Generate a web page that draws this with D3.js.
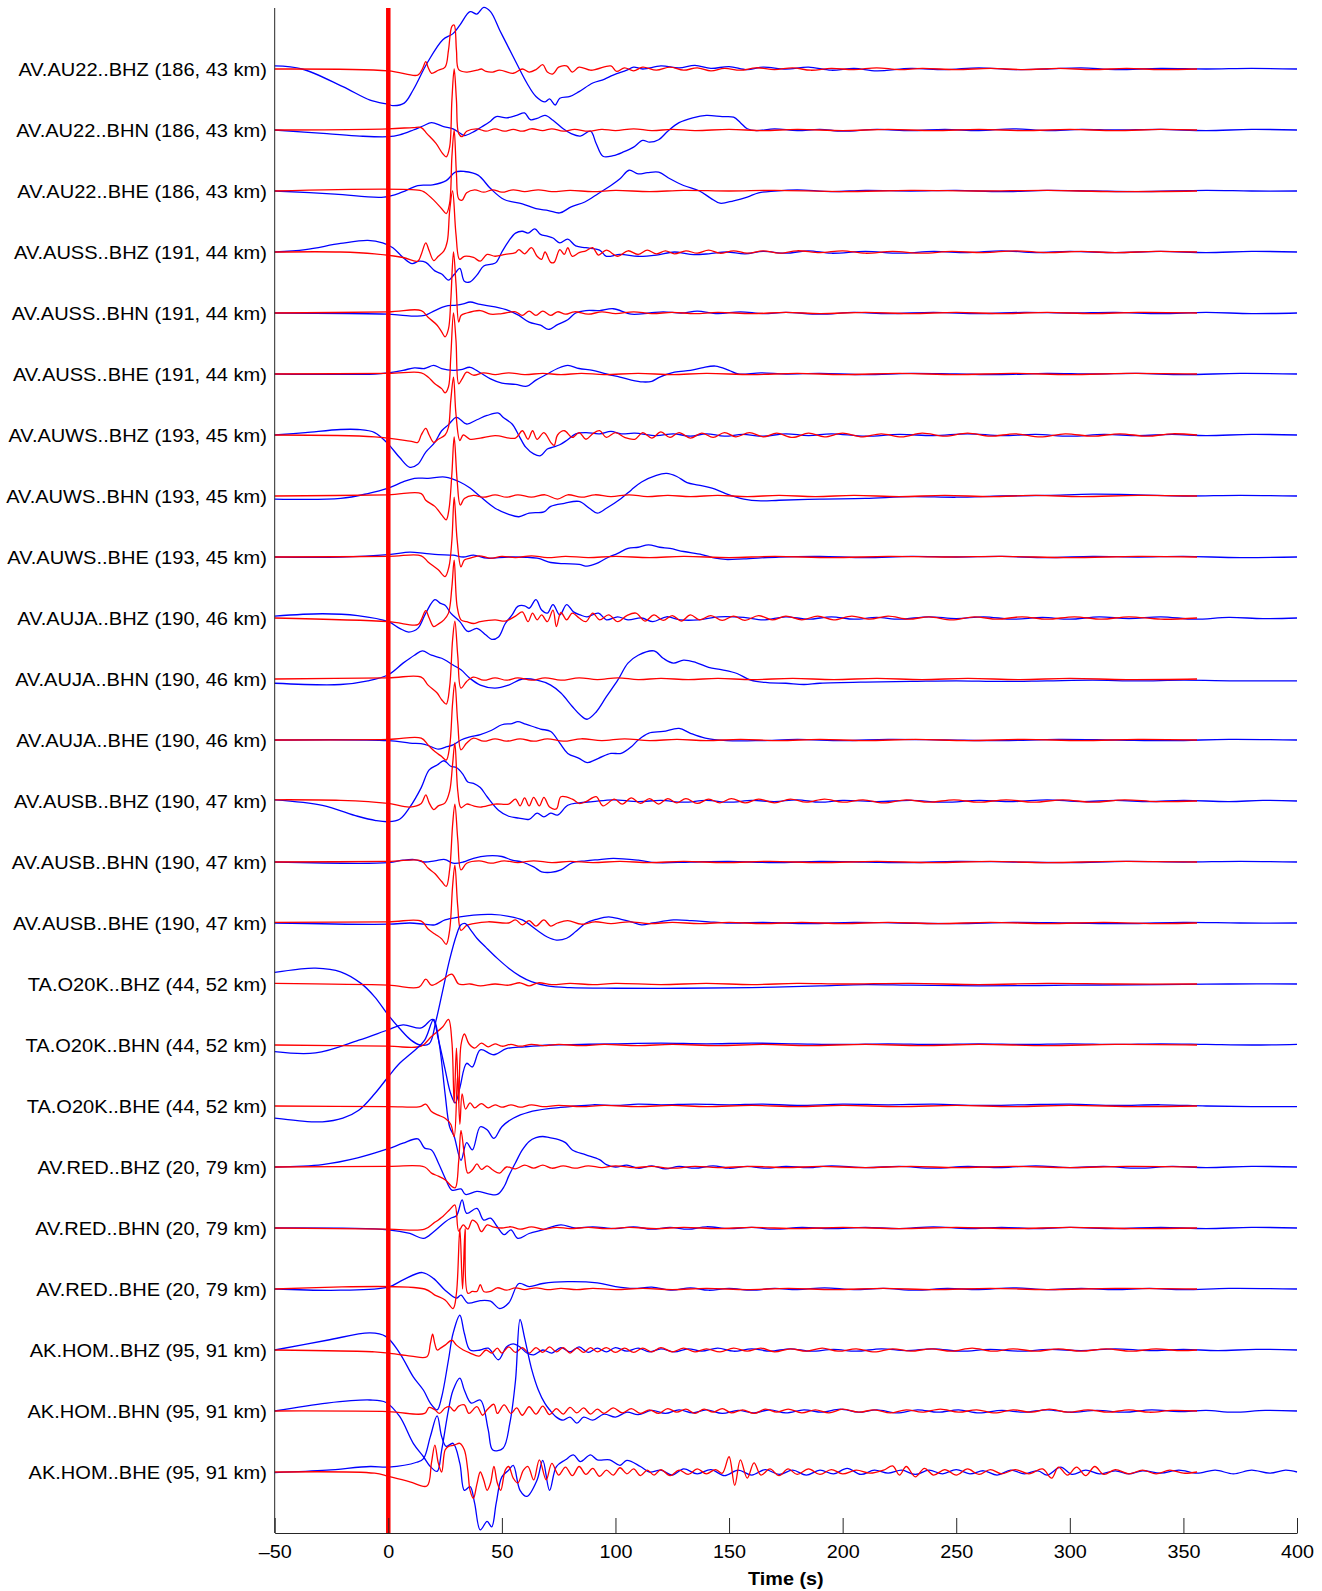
<!DOCTYPE html>
<html>
<head>
<meta charset="utf-8">
<script src="https://cdn.jsdelivr.net/npm/d3@7"></script>
<style>
  body { margin: 0; background: #fff; }
  text { font-family: "Liberation Sans", Arial, Helvetica, sans-serif; }
</style>
</head>
<body>
<div id="chart"></div>
<script>
// station labels, top to bottom
const labels = [
  "AV.AU22..BHZ (186, 43 km)", "AV.AU22..BHN (186, 43 km)", "AV.AU22..BHE (186, 43 km)",
  "AV.AUSS..BHZ (191, 44 km)", "AV.AUSS..BHN (191, 44 km)", "AV.AUSS..BHE (191, 44 km)",
  "AV.AUWS..BHZ (193, 45 km)", "AV.AUWS..BHN (193, 45 km)", "AV.AUWS..BHE (193, 45 km)",
  "AV.AUJA..BHZ (190, 46 km)", "AV.AUJA..BHN (190, 46 km)", "AV.AUJA..BHE (190, 46 km)",
  "AV.AUSB..BHZ (190, 47 km)", "AV.AUSB..BHN (190, 47 km)", "AV.AUSB..BHE (190, 47 km)",
  "TA.O20K..BHZ (44, 52 km)", "TA.O20K..BHN (44, 52 km)", "TA.O20K..BHE (44, 52 km)",
  "AV.RED..BHZ (20, 79 km)", "AV.RED..BHN (20, 79 km)", "AV.RED..BHE (20, 79 km)",
  "AK.HOM..BHZ (95, 91 km)", "AK.HOM..BHN (95, 91 km)", "AK.HOM..BHE (95, 91 km)"
];
const timeTicks = [-50, 0, 50, 100, 150, 200, 250, 300, 350, 400];
const originTime = 0;

// waveforms: flat lists of time (s), amplitude (trace spacings, up positive)
const au22Z_b = [-50,.05, -38,0, -20,-.29, -8,-.51, 0,-.58, 2,-.6, 7,-.56, 11,-.34, 17,.09, 24,.48, 28.5,.58, 31.5,.72, 36,.94, 39,.9, 42,1.01, 45,.94, 49,.64, 52,.42, 56.5,.09, 61,-.23, 65,-.45, 69,-.54, 71,-.49, 73.5,-.59, 75.5,-.48, 80,-.45, 84,-.37, 90,-.23, 95,-.17, 99,-.1, 105,-.02, 108,.03, 112,0, 120,.05, 128,.02, 135,.06, 142,.01, 150,.04, 158,-.01, 165,.03, 175,0, 185,.03, 195,-.02, 205,.01, 215,-.03, 230,.01, 245,-.01, 260,.02, 275,-.01, 290,0, 305,.02, 320,-.01, 340,.01, 360,0, 380,.01, 400,0];
const au22Z_r = [-50,0, 0,-.03, 13,-.1, 15,0, 16.5,.12, 17.5,.03, 19,-.07, 22,-.02, 25,.03, 26.5,.31, 28,.7, 29,.72, 30,.31, 31,-.01, 34.5,-.05, 39,-.02, 41,0, 43,-.04, 46,-.05, 49,-.02, 55,-.07, 59,0, 62,-.05, 65,-.01, 68,.07, 70,-.05, 72.5,-.08, 75,.03, 78.5,.05, 81,-.05, 84,.03, 89,-.02, 92,0, 98,.05, 100.5,-.04, 104,.02, 108,-.03, 112,.03, 118,-.02, 124,.03, 130,-.02, 136,.02, 142,-.03, 148,.01, 155,-.02, 162,.02, 170,-.01, 178,.02, 186,-.02, 195,.01, 205,-.01, 215,.02, 225,-.01, 235,.01, 250,-.01, 265,.01, 280,-.01, 295,.01, 310,-.01, 325,.01, 340,-.01, 356,0];
const au22N_b = [-50,0, -27,-.06, -12.5,-.1, 0,-.11, 5,-.08, 11,0, 15.5,.07, 19,.12, 24,.06, 28.5,.02, 31.5,-.05, 33.5,-.09, 37.5,-.03, 41,.05, 44.5,.13, 47.5,.22, 52,.2, 56.5,.24, 60,.28, 62.5,.17, 65.5,.19, 69,.24, 72.5,.16, 77,.02, 80.5,-.06, 84.5,-.1, 89,-.02, 91.5,-.22, 94.5,-.43, 99,-.42, 103.5,-.36, 108,-.28, 112,-.17, 115,-.2, 119,-.16, 123,-.02, 128,.12, 134,.2, 140,.24, 147,.22, 152,.21, 155,.12, 158,.02, 162,-.01, 170,.02, 180,-.01, 190,.01, 200,-.02, 215,.01, 230,-.01, 245,.01, 260,-.01, 275,.02, 290,-.01, 305,.01, 320,0, 340,.01, 360,-.01, 380,.01, 400,0];
const au22N_r = [-50,0, 0,.02, 11,.04, 14.5,.04, 17,-.06, 21,-.22, 24,-.39, 25.5,-.44, 27,-.28, 28,.49, 29,1.0, 30,.49, 31,-.06, 32.5,-.11, 34.5,-.02, 39,.02, 43,-.02, 47,.02, 51,-.02, 55,.01, 59,-.02, 63,.02, 68,-.01, 72,.02, 77,-.02, 82,.01, 88,-.02, 94,.01, 100,-.01, 108,.02, 116,-.01, 125,.01, 135,-.01, 150,.01, 165,-.01, 180,.01, 200,-.01, 220,.01, 240,-.01, 260,.01, 280,-.01, 300,.01, 320,-.01, 340,.01, 356,0];
const au22E_b = [-50,0, -23.5,-.05, -2,-.1, 6,-.02, 13,.09, 19.5,.1, 25.5,.17, 29.5,.31, 33.5,.32, 39.5,.26, 45,.04, 51,-.14, 59,-.21, 65,-.29, 70.5,-.32, 75.5,-.36, 80.5,-.26, 86.5,-.18, 92.5,-.04, 98,.09, 102,.2, 106,.34, 110,.28, 114,.3, 119,.31, 124,.2, 130,.09, 137,0, 142,-.12, 146,-.2, 152,-.16, 158,-.1, 163,-.03, 170,0, 180,.02, 195,-.01, 210,.01, 230,0, 250,.01, 270,-.01, 290,.01, 310,0, 330,-.01, 360,.01, 380,0, 400,0];
const au22E_r = [-50,0, 14,.01, 16,-.02, 20,-.15, 23.5,-.29, 25.5,-.37, 27,-.2, 28,.56, 29,1.0, 30,.28, 31,-.13, 32.5,-.15, 34.5,-.03, 38,.02, 42,-.02, 46,.02, 50,-.02, 55,.02, 60,-.01, 66,.02, 72,-.01, 80,.01, 90,-.01, 100,.01, 115,-.01, 130,.01, 150,0, 170,.01, 200,-.01, 230,.01, 260,0, 290,.01, 320,-.01, 356,0];
const aussZ_b = [-50,0, -36.5,.04, -21,.14, -9,.19, -2.5,.15, 2,.07, 6.5,-.09, 10.5,-.19, 13.5,-.15, 16.5,-.17, 20.5,-.31, 23.5,-.36, 26.5,-.46, 29,-.37, 31.5,-.27, 33.5,-.48, 36,-.49, 39,-.38, 42,-.23, 45.5,-.2, 47.5,-.17, 50,0, 53,.18, 56,.31, 59,.34, 61.5,.31, 64.5,.38, 67,.29, 70,.26, 72.5,.23, 75.5,.15, 79,.21, 82.5,.1, 87,.07, 93,.03, 96,-.07, 102,-.04, 110,-.07, 118,-.05, 126,0, 133,-.04, 141,-.03, 149,0, 157,-.03, 165,.01, 175,-.02, 185,.02, 195,-.02, 210,.01, 225,-.02, 240,.01, 255,-.01, 270,.02, 285,-.01, 300,.01, 320,-.01, 340,.01, 360,-.01, 380,.01, 400,0];
const aussZ_r = [-50,0, -21,0, -6,-.03, 6.5,-.09, 13,-.15, 14.5,-.04, 16.5,.15, 18,.02, 20,-.14, 22,-.07, 24.5,.02, 26,.18, 27,.67, 28.3,1.0, 29.8,.29, 31.4,-.12, 33.5,-.07, 37.5,-.09, 40.5,-.15, 43.5,-.04, 47,-.07, 51.5,-.04, 56,-.01, 57.5,.04, 60,-.03, 63,.07, 65.5,-.07, 67.5,-.12, 69,0, 71.5,-.17, 73,-.17, 75.5,.04, 77.5,-.04, 79,.07, 81,-.07, 84,-.01, 87,.02, 90,.07, 92.5,-.05, 96,.03, 101,-.07, 105.5,.02, 110,-.04, 114,.03, 118,-.03, 122,.02, 126,-.03, 131,.02, 136,-.02, 141,.03, 146,-.02, 152,.02, 158,-.02, 165,.02, 172,-.02, 180,.02, 190,-.01, 200,.02, 210,-.02, 222,.01, 235,-.02, 248,.01, 262,-.01, 276,.02, 290,-.01, 305,.01, 320,-.01, 338,.01, 356,0];
const aussN_b = [-50,0, 0,-.02, 11,-.05, 16,-.04, 20.5,.04, 25,.11, 30,.13, 33,.15, 36,.18, 40.5,.14, 47,.1, 53,.04, 57.5,-.04, 62,-.15, 67,-.2, 70.5,-.27, 74.5,-.19, 79,-.11, 82.5,0, 87,.04, 93,.04, 99,.07, 107,-.02, 115,0, 121,.02, 129,0, 136,.03, 145,-.01, 155,.02, 165,-.01, 175,.01, 190,-.02, 205,.01, 220,-.01, 240,.01, 260,-.01, 280,.01, 300,0, 320,.01, 340,-.01, 360,.01, 380,-.01, 400,0];
const aussN_r = [-50,0, 0,.02, 14.5,.04, 17.5,-.07, 21.5,-.2, 23.5,-.31, 25,-.39, 26.5,-.26, 27.5,.2, 28.7,1.0, 29.8,.48, 31,-.15, 32,-.04, 34.5,0, 40.5,.04, 45,-.02, 50,-.01, 56,.02, 59,-.04, 62,.03, 65,-.04, 68,.03, 71.5,-.04, 74.5,.02, 78,-.02, 82,.02, 88,-.02, 94,.02, 100,-.01, 108,.02, 116,-.01, 125,.01, 135,-.01, 145,.01, 160,-.01, 175,.01, 190,-.01, 210,.01, 230,-.01, 250,.01, 270,-.01, 290,.01, 310,-.01, 330,.01, 356,0];
const aussE_b = [-50,0, -6,0, 0,.02, 6.5,.06, 11.5,.1, 16,.09, 20,.14, 23.5,.09, 28.5,.06, 32,.07, 36,.11, 40.5,.02, 45,-.08, 50,-.15, 56,-.17, 61,-.2, 65,-.1, 70,0, 74.5,.09, 79,.14, 84,.09, 90,.06, 96,0, 102,-.05, 107,-.1, 112,-.13, 116,-.12, 119.5,-.05, 126,.03, 133,.06, 138,.1, 144,.13, 150,.06, 154,0, 164,.02, 175,0, 190,.01, 210,-.01, 230,.01, 250,0, 270,-.01, 290,.01, 310,0, 330,.01, 350,-.01, 375,.01, 400,0];
const aussE_r = [-50,0, 0,.01, 14.5,.02, 17.5,-.05, 20.5,-.16, 23.5,-.24, 25,-.31, 26.5,-.21, 27.5,.28, 28.7,1.0, 29.8,.55, 31,-.16, 32.5,-.08, 34.5,.03, 37.5,-.02, 42,.02, 47,-.01, 53,.02, 60,-.01, 68,.01, 76,-.01, 85,.01, 95,-.01, 110,.01, 125,-.01, 140,.01, 160,-.01, 180,.01, 200,-.01, 225,.01, 250,-.01, 275,.01, 300,-.01, 325,.01, 356,0];
const auwsZ_b = [-50,0, -36.5,.04, -21,.09, -13.5,.09, -6,.04, 0,-.15, 5,-.37, 9.5,-.53, 13,-.48, 16.5,-.28, 20.5,-.12, 23.5,.07, 26.5,.17, 30,.29, 34.5,.18, 39,.25, 43.5,.32, 48.5,.36, 50.5,.29, 54.5,.18, 57.5,-.01, 60.5,-.2, 64,-.31, 67,-.34, 70,-.23, 72.5,-.2, 75.5,-.16, 78.5,-.09, 82.5,.02, 87,.04, 93,.02, 98,.06, 102.5,.02, 108.5,.03, 118,-.01, 125.5,.02, 133,-.02, 140,.02, 148,-.02, 156,.01, 165,-.02, 175,.02, 185,-.01, 195,.02, 210,-.02, 225,.01, 240,-.01, 255,.02, 270,-.01, 285,.01, 300,-.02, 315,.01, 330,-.01, 345,.01, 360,-.01, 380,.01, 400,0];
const auwsZ_r = [-50,0, -6,-.03, 9.5,-.1, 13,-.12, 14.5,0, 16.5,.11, 18,0, 20,-.12, 22,-.07, 25,0, 26.5,.13, 27.5,.56, 28.7,.95, 29.8,.34, 31.5,-.09, 33,0, 36,-.07, 40.5,-.05, 47,-.01, 56,-.05, 59,.07, 61.5,-.07, 63.5,.07, 65.5,-.07, 68.5,.04, 71.5,-.12, 73,-.17, 74.5,0, 77.5,.07, 81,-.04, 84,.04, 87,-.07, 90,.02, 93,.07, 96,-.04, 100,.04, 104,-.04, 108.5,-.07, 112,.04, 116,-.05, 120,.05, 124,-.04, 128,.04, 133,-.05, 138,.03, 143,-.04, 148,.04, 153,-.03, 159,.04, 165,-.03, 171,.03, 178,-.04, 185,.03, 192,-.03, 200,.03, 208,-.03, 217,.02, 226,-.03, 235,.03, 245,-.02, 255,.03, 265,-.02, 276,.02, 287,-.03, 298,.02, 310,-.02, 322,.02, 334,-.02, 345,.02, 356,0];
const auwsN_b = [-50,-.05, -21,-.04, -9,.04, 0,.13, 6.5,.23, 11.5,.29, 17.5,.29, 25,.31, 31.5,.23, 36,.13, 40.5,-.01, 47,-.2, 53,-.3, 57.5,-.34, 62,-.28, 68.5,-.26, 71.5,-.17, 77.5,-.12, 84,-.09, 88.5,-.2, 92,-.28, 96,-.2, 102.5,-.04, 107,.1, 111.5,.23, 118,.34, 122.5,.37, 127,.32, 131.5,.22, 136.5,.18, 142.5,.13, 148.5,.04, 156.5,-.05, 164,-.08, 172,-.07, 190,-.05, 210,-.04, 230,-.01, 250,-.02, 270,0, 290,.01, 310,.03, 330,.02, 350,0, 375,.01, 400,0];
const auwsN_r = [-50,0, 0,.02, 14.5,.04, 16.5,-.07, 20.5,-.17, 23.5,-.31, 25.5,-.39, 26.7,-.22, 28,.37, 29,.97, 30.3,.26, 31.7,-.15, 33.5,-.04, 37.5,.01, 42,-.02, 47,.02, 52,-.02, 57,.02, 63,-.02, 69,.02, 74.5,-.05, 79,.02, 85,-.02, 91,.02, 98,-.01, 106,.02, 114,-.01, 123,.01, 133,-.01, 145,.01, 158,-.01, 172,.01, 188,-.01, 205,.01, 225,-.01, 245,.01, 265,-.01, 285,.01, 305,-.01, 330,.01, 356,0];
const auwsE_b = [-50,0, -21,0, 0,.04, 9.5,.08, 16,.06, 22,.04, 28.5,.03, 33,0, 37.5,.03, 43.5,-.02, 53,0, 65.5,-.02, 71.5,-.09, 77.5,-.11, 84,-.12, 87.5,-.15, 91.5,-.11, 96,-.02, 101,.06, 105.5,.14, 110,.16, 114.5,.2, 119.5,.16, 124,.14, 130,.09, 138,.04, 144,-.02, 148.5,-.04, 156.5,-.03, 172,0, 190,.01, 210,-.01, 230,.01, 250,0, 270,.01, 290,-.01, 310,.01, 330,0, 350,.01, 375,-.01, 400,0];
const auwsE_r = [-50,0, 0,.01, 14.5,.02, 17.5,-.08, 22,-.21, 25,-.32, 26.7,-.16, 28,.28, 29,.98, 30.3,.28, 32,-.16, 33.5,-.05, 36,-.02, 40,.02, 45,-.02, 50,.01, 56,-.01, 63,.02, 70,-.01, 78,.01, 88,-.01, 100,.01, 115,-.01, 130,.01, 150,-.01, 170,.01, 195,-.01, 220,.01, 245,0, 270,.01, 300,-.01, 330,.01, 356,0];
const aujaZ_b = [-50,.03, -29,.07, -13.5,.04, 0,-.06, 5,-.17, 9,-.23, 13,-.17, 16.5,.08, 20.5,.3, 23,.24, 25,.21, 27.5,.08, 31.5,-.06, 35,-.22, 39,-.17, 43,-.28, 45.5,-.35, 48.5,-.31, 51.5,-.09, 54.5,.05, 57,.19, 60,.2, 62,.16, 65,.3, 67.5,.13, 70,.08, 72.5,.22, 75.5,.05, 78.5,.22, 81.5,.1, 84.5,.05, 87.5,.02, 92.5,.08, 96,-.03, 101,.02, 105.5,-.03, 111.5,0, 116.5,-.06, 122.5,.02, 128.5,-.03, 136.5,-.03, 145.5,.02, 156.5,.01, 165,-.03, 175,.02, 185,-.02, 195,.02, 205,-.02, 215,.01, 225,-.02, 238,.02, 250,-.01, 262,.02, 275,-.02, 288,.01, 300,-.02, 313,.02, 326,-.01, 340,.02, 355,-.02, 370,.01, 385,-.01, 400,0];
const aujaZ_r = [-50,0, 0,-.06, 13,-.11, 14.5,-.03, 16.5,.12, 18,0, 20,-.14, 22,-.1, 24.5,-.03, 26.5,.08, 28,.51, 29,.95, 30.3,.19, 32,-.03, 34.5,-.06, 37.5,-.09, 40.5,-.06, 47,-.03, 51.5,-.05, 56,.03, 59,.1, 61.5,-.06, 63.5,.08, 65.5,-.03, 67.5,.05, 70,-.06, 72.5,.13, 74,-.14, 76,.09, 78.5,-.03, 81,.08, 84,0, 87,-.06, 90,.08, 93,-.03, 97,.05, 101,-.06, 105,.04, 109,.08, 113,-.05, 117,.05, 121,-.04, 125,.04, 129,-.05, 133,.05, 137,-.03, 142,.04, 147,-.04, 152,.03, 157,-.04, 163,.04, 169,-.03, 175,.03, 182,-.03, 189,.03, 196,-.03, 204,.03, 212,-.02, 220,.03, 229,-.02, 238,.02, 248,-.03, 258,.02, 268,-.02, 279,.02, 290,-.02, 302,.02, 314,-.02, 326,.02, 340,-.02, 356,0];
const aujaN_b = [-50,-.07, -21,-.09, -9,-.03, 0,.07, 6.5,.26, 11.5,.39, 15,.46, 19,.39, 23.5,.34, 28.5,.23, 32,.15, 36,.01, 40.5,-.1, 47,-.15, 53,-.1, 59,0, 65.5,-.02, 71.5,-.1, 76,-.23, 81,-.45, 84.5,-.59, 87.5,-.66, 91.5,-.54, 96,-.29, 101,-.02, 105.5,.26, 110,.39, 117,.46, 121,.34, 125.5,.26, 130,.31, 135.5,.27, 141,.19, 147,.15, 153.5,.09, 159.5,-.02, 167,-.06, 175,-.07, 183,-.09, 190,-.07, 210,-.05, 230,-.04, 250,-.03, 270,-.04, 290,-.03, 310,-.02, 330,-.03, 350,-.02, 375,-.03, 400,-.03];
const aujaN_r = [-50,0, 0,.02, 14.5,.03, 17.5,-.1, 21.5,-.23, 23.5,-.34, 25.5,-.41, 27,-.13, 28.3,.64, 29.3,.95, 30.6,.37, 32,-.15, 34.5,-.04, 37.5,.03, 42,-.02, 47,.02, 52,-.02, 57,.02, 63,-.02, 69,.02, 76,-.02, 84,.02, 92,-.01, 101,.02, 110,-.01, 120,.01, 132,-.01, 145,.01, 160,-.01, 178,.01, 196,-.01, 215,.01, 235,-.01, 255,.01, 278,-.01, 300,.01, 325,-.01, 356,0];
const aujaE_b = [-50,0, 0,-.01, 9.5,-.05, 16,-.07, 22,-.15, 25,-.12, 28.5,-.08, 32,0, 36,.05, 40.5,.09, 45.5,.16, 50,.25, 54.5,.27, 57,.3, 60.5,.26, 67,.18, 71.5,.14, 75.5,-.05, 79,-.22, 84,-.3, 87.5,-.37, 92.5,-.3, 98,-.22, 102.5,-.22, 107,-.11, 110,0, 114.5,.11, 121,.14, 128,.19, 133,.11, 139.5,.03, 149,-.01, 164,-.01, 180,.01, 200,-.01, 220,.01, 245,0, 270,-.01, 295,.01, 320,0, 345,-.01, 370,.01, 400,0];
const aujaE_r = [-50,0, 0,.01, 14.5,.03, 17.5,-.08, 20.5,-.19, 23.5,-.27, 25.5,-.33, 27,-.11, 28.3,.6, 29.3,.95, 30.6,.27, 32,-.16, 34.5,-.05, 37.5,.03, 42,-.02, 47,.02, 52,-.02, 58,.02, 64,-.02, 70,.02, 77,-.02, 85,.02, 94,-.01, 104,.02, 115,-.01, 127,.01, 140,-.01, 155,.01, 172,-.01, 190,.01, 210,-.01, 232,.01, 255,-.01, 280,.01, 305,-.01, 330,.01, 356,0];
const ausbZ_b = [-50,.02, -29,-.07, -13.5,-.25, -5.5,-.32, 0,-.34, 5,-.3, 9.5,-.1, 14.5,.22, 18,.51, 21.5,.59, 24.5,.66, 27.5,.57, 30,.55, 33,.43, 35,.31, 37.5,.29, 40.5,.22, 43.5,.07, 48.5,-.15, 53,-.25, 57.5,-.28, 62,-.3, 65.5,-.2, 68.5,-.26, 71.5,-.2, 74.5,-.23, 79,-.07, 84,-.03, 90,-.01, 99,.02, 110,-.01, 120,.01, 130,-.02, 140,.01, 150,-.02, 160,.01, 170,-.01, 180,.02, 190,-.02, 200,.01, 215,-.01, 230,.01, 245,-.02, 260,.01, 275,-.01, 290,.02, 305,-.01, 320,.01, 335,-.01, 350,.01, 370,-.01, 385,.01, 400,0];
const ausbZ_r = [-50,.02, -21,.01, 0,-.04, 9.5,-.1, 14.5,-.04, 16.5,.1, 18,-.03, 20,-.14, 22,-.08, 25,-.03, 27,.16, 28.3,.6, 29.3,.95, 30.6,.16, 32,-.11, 34.5,-.05, 37.5,-.08, 40.5,-.1, 47,-.05, 53,-.05, 56,.03, 58,-.08, 60,.05, 62,-.08, 64,.06, 66.5,-.08, 68.5,.06, 71,-.1, 74,-.13, 76,.07, 81,.03, 84,-.04, 87,-.01, 91.5,.07, 94.5,-.08, 99.5,.03, 103,-.05, 107,.05, 111,-.04, 115,.04, 119,-.05, 123,.04, 127,-.03, 131,.04, 136,-.04, 141,.03, 146,-.03, 151,.04, 157,-.03, 163,.03, 170,-.03, 177,.03, 184,-.02, 192,.03, 200,-.02, 209,.02, 218,-.03, 228,.02, 238,-.02, 249,.02, 260,-.02, 272,.02, 284,-.02, 297,.02, 310,-.02, 324,.02, 338,-.01, 356,0];
const ausbN_b = [-50,0, 0,-.01, 6.5,.03, 11.5,.04, 16,0, 20.5,.02, 25,.04, 28.5,-.02, 33,0, 37.5,.06, 43.5,.1, 50,.09, 54.5,.03, 59,0, 64,-.08, 67.5,-.16, 71.5,-.17, 76,-.13, 81,-.01, 87,.02, 93,.04, 99,.06, 110,.03, 118,-.01, 133,0, 150,.01, 170,-.01, 190,.01, 210,0, 230,-.01, 250,.01, 275,0, 300,-.01, 325,.01, 350,0, 375,.01, 400,0];
const ausbN_r = [-50,0, 0,.01, 14.5,.02, 17.5,-.1, 20.5,-.19, 23.5,-.32, 25.5,-.4, 27,-.13, 28.3,.6, 29.3,.95, 30.6,.36, 32,-.13, 34.5,-.02, 40,.02, 45,-.02, 51,.02, 57,-.01, 64,.02, 72,-.01, 80,.01, 90,-.01, 102,.01, 115,-.01, 130,.01, 148,-.01, 168,.01, 190,-.01, 215,.01, 240,-.01, 265,.01, 290,-.01, 320,.01, 356,0];
const ausbE_b = [-50,0, 0,-.02, 9.5,0, 16,-.02, 20.5,-.03, 25,.05, 31.5,.1, 37.5,.13, 45.5,.14, 53,.11, 59,.05, 65.5,-.12, 70,-.23, 74,-.28, 78.5,-.25, 82.5,-.14, 87,0, 91.5,.06, 97,.1, 102.5,.06, 107,.02, 111.5,-.03, 116.5,0, 125.5,.05, 133.5,.04, 141,.02, 149,0, 165,.01, 185,-.01, 205,.01, 225,0, 250,-.01, 275,.01, 300,0, 325,-.01, 350,.01, 375,0, 400,0];
const ausbE_r = [-50,.01, 0,.02, 14.5,.03, 17.5,-.1, 20.5,-.18, 23.5,-.26, 25.5,-.35, 27,-.12, 28.3,.6, 29.3,.95, 30.6,.26, 32,-.12, 34.5,-.04, 37.5,-.01, 44,.02, 53,0, 56,.05, 59,-.03, 62,.04, 65,-.05, 68.5,.05, 71.5,-.05, 74.5,0, 79,.04, 85,-.02, 91,.02, 98,-.01, 106,.02, 115,-.01, 125,.01, 137,-.01, 150,.01, 165,-.01, 182,.01, 200,-.01, 220,.01, 242,-.01, 265,.01, 290,-.01, 315,.01, 340,-.01, 356,0];
const o20kZ_b = [-50,.19, -40,.24, -32,.26, -21,.2, -12,.01, -6,-.21, 0,-.51, 5,-.73, 10,-.92, 14,-1.0, 18,-.98, 21,-.6, 24,-.1, 27,.4, 30,.8, 32,.97, 34,.99, 36,.9, 39,.75, 43,.6, 48,.42, 53,.26, 58,.13, 63,.04, 70,-.03, 80,-.06, 100,-.07, 130,-.07, 160,-.06, 190,-.03, 210,-.01, 230,-.02, 260,-.03, 300,-.02, 340,-.01, 370,0, 400,0];
const o20kZ_r = [-50,.01, 0,-.02, 13.5,-.05, 16.5,.08, 19,-.02, 23.5,.06, 28,.16, 31,0, 36,0, 40.5,-.03, 47,0, 53,-.02, 58,.02, 62,-.03, 66,.02, 72,-.01, 80,.01, 90,-.01, 100,.01, 120,-.01, 140,.01, 160,-.01, 180,.01, 200,0, 230,.01, 260,-.01, 290,.01, 320,0, 356,0];
const o20kN_b = [-50,-.11, -32,-.13, -13,.08, 0,.25, 6.5,.33, 14.5,.28, 19.5,.42, 22,.1, 25,-.4, 27.5,-.8, 29.5,-.95, 31.5,-.7, 34.5,-.3, 37,-.36, 40.5,-.08, 46.5,-.16, 52,-.06, 60,-.03, 71,0, 85,.01, 100,.02, 120,.03, 140,.02, 160,.03, 180,.02, 200,.01, 220,.02, 240,.01, 260,.02, 280,.01, 300,.02, 320,.01, 340,.02, 360,.01, 380,0, 400,.01];
const o20kN_r = [-50,0, 0,-.02, 14.5,-.02, 19,.14, 24,.3, 26.5,.42, 28,.05, 29,-.95, 30,-.05, 31,-.95, 32,0, 33.5,.18, 35.5,.02, 38,-.05, 41,.03, 44,-.03, 47,.02, 50,-.02, 54,.01, 58,-.02, 63,.01, 68,-.01, 75,.01, 85,-.01, 95,.01, 110,-.01, 125,.01, 145,-.01, 165,.01, 185,-.01, 210,.01, 235,-.01, 260,.01, 290,-.01, 320,.01, 356,0];
const o20kE_b = [-50,-.2, -40,-.24, -29,-.26, -20,-.2, -13,-.07, -6,.2, 0,.48, 5,.7, 10,.86, 16,1.08, 20,1.42, 22.5,1.0, 25,.2, 27,-.34, 29,-.5, 32,-.89, 34.5,-.6, 37,-.72, 40.5,-.34, 43.5,-.39, 46.5,-.53, 50,-.34, 55,-.2, 62,-.1, 71.5,-.04, 80,-.01, 90,.02, 100,.01, 110,.03, 120,.02, 135,.03, 150,.02, 165,.03, 180,.01, 200,.03, 220,.02, 240,.03, 260,.01, 280,.02, 300,.03, 320,.01, 340,.02, 360,0, 380,-.01, 400,-.01];
const o20kE_r = [-50,0, 0,-.01, 14,-.01, 16.5,.03, 19,-.09, 22,-.15, 25,-.2, 27.5,-.3, 29,-.5, 30.5,.5, 31.5,-.3, 32.5,.2, 34,-.05, 36,.05, 38,-.03, 41,.04, 44,-.03, 47,.02, 50,-.02, 54,.02, 58,-.02, 63,.02, 68,-.01, 75,.01, 85,-.01, 95,.01, 110,-.01, 125,.01, 140,-.01, 160,.01, 180,-.01, 200,.01, 225,-.01, 250,.01, 275,-.01, 300,.01, 330,-.01, 356,0];
const redZ_b = [-50,0, -29,.04, -13.5,.15, 0,.3, 6.5,.39, 13,.46, 16,.31, 19,.28, 22,.07, 25,-.18, 28,-.38, 32,-.36, 34,-.45, 39,-.4, 44,-.44, 48,-.45, 51,-.32, 53,-.15, 56,.07, 59,.28, 62,.42, 65,.48, 68,.5, 71,.48, 75,.45, 78,.4, 81,.28, 87,.2, 93,.12, 96,.04, 100,0, 105,.03, 110,-.02, 116,.02, 122,-.03, 128,.01, 135,-.02, 143,.02, 150,-.02, 158,.01, 166,-.02, 175,.01, 185,-.01, 195,.02, 210,-.01, 225,.01, 240,-.02, 255,.01, 270,-.01, 285,.02, 300,-.01, 315,.01, 330,-.02, 345,.01, 360,-.01, 380,.01, 400,0];
const redZ_r = [-50,0, 0,.01, 16,0, 19,-.1, 22,-.15, 25,-.21, 28,-.32, 29.5,-.34, 31,.1, 32,.6, 33.5,.2, 35,-.1, 37,-.05, 39,.05, 41,-.04, 43.5,.02, 46,-.05, 49,-.1, 52,0, 56,-.03, 60,.03, 64,-.02, 68,.03, 72,-.02, 77,.02, 82,-.02, 88,.02, 94,-.01, 100,.02, 108,-.01, 116,.01, 125,-.02, 135,.01, 145,-.01, 160,.01, 175,-.01, 190,.01, 210,-.01, 230,.01, 250,-.01, 275,.01, 300,-.01, 325,.01, 356,0];
const redN_b = [-50,0, 0,-.03, 9.5,-.09, 15.5,-.17, 20,-.06, 25,.1, 27.5,.16, 30,.2, 32.5,.46, 34.5,.24, 39,.32, 42,.13, 45,.16, 48,.02, 51,-.11, 54,-.03, 57,-.17, 62,-.09, 68,-.03, 76,.05, 82,0, 90,.02, 100,-.01, 108,.02, 116,-.02, 124,.01, 132,-.02, 140,.02, 150,-.01, 160,.01, 170,-.02, 182,.01, 195,-.01, 210,.01, 225,-.01, 240,.02, 255,-.01, 270,.01, 285,-.01, 300,.01, 320,-.01, 340,.01, 360,-.01, 380,.01, 400,0];
const redN_r = [-50,0, 0,-.02, 16,-.02, 20,.08, 24,.19, 27,.3, 29.3,.38, 31,-.05, 33,.05, 35,-.02, 37,.13, 39,.08, 41,-.06, 43.5,.05, 46,.02, 50,0, 54,.02, 58,-.02, 63,.02, 68,-.02, 74,.01, 80,-.01, 88,.01, 96,-.01, 106,.01, 118,-.01, 130,.01, 145,-.01, 160,.01, 180,-.01, 200,.01, 225,-.01, 250,.01, 275,-.01, 300,.01, 330,-.01, 356,0];
const redE_b = [-50,0, -21,-.02, 0,.03, 6.5,.15, 15,.27, 20,.17, 25,-.02, 30,-.15, 32,-.1, 35,-.23, 40.5,-.19, 45,-.2, 49,-.32, 53,-.23, 57.5,.09, 62,.04, 68,.09, 79,.12, 92,.1, 100,.04, 108,.01, 116,.03, 125,-.02, 133,.02, 141,-.02, 150,.01, 160,-.02, 170,.01, 180,-.01, 192,.02, 205,-.01, 218,.01, 232,-.02, 246,.01, 260,-.01, 275,.02, 290,-.01, 305,.01, 320,-.01, 335,.01, 350,-.01, 370,.01, 400,0];
const redE_r = [-50,0, 16,0, 20.5,-.1, 25,-.18, 28.5,-.32, 30,-.07, 31.5,.99, 32.7,0, 33.8,.99, 35,-.07, 37,-.04, 39,-.04, 40.5,.07, 42,-.04, 45,-.04, 48,.02, 52,-.02, 56,.02, 60,-.01, 65,.02, 70,-.01, 76,.01, 83,-.01, 90,.01, 100,-.01, 112,.01, 125,-.01, 140,.01, 158,-.01, 176,.01, 196,-.01, 218,.01, 240,-.01, 265,.01, 290,-.01, 320,.01, 356,0];
const homZ_b = [-50,0, -27,.16, -8,.28, -1,.22, 5,-.05, 11,-.44, 15.5,-.66, 18.5,-.87, 21.5,-.98, 23.5,-.77, 26.5,-.16, 28.5,.27, 31.5,.57, 33.5,.27, 36,0, 40.5,0, 44,.03, 48.5,-.16, 52,.05, 55,.1, 58,.05, 61,-.05, 64,-.08, 68,0, 72,-.05, 76,.04, 80,-.03, 84,.05, 88,-.04, 92,.03, 96,-.03, 100,.04, 105,-.02, 110,.03, 115,-.03, 120,.02, 126,-.03, 132,.02, 138,-.02, 145,.03, 152,-.02, 160,.02, 168,-.02, 177,.02, 186,-.02, 196,.01, 206,-.02, 217,.02, 228,-.01, 240,.02, 252,-.02, 265,.01, 278,-.02, 291,.01, 305,-.01, 320,.02, 335,-.01, 350,.01, 365,-.01, 382,.01, 400,0];
const homZ_r = [-50,0, -6,-.03, 0,-.05, 10,-.1, 17,-.11, 18.5,.1, 19.5,.26, 20.5,.1, 21.5,0, 23,.03, 25,.08, 28,.16, 30,.08, 33,0, 36,-.05, 40,-.1, 43,0, 45.5,-.05, 48,.03, 50,-.05, 53,.05, 56,-.04, 59,.04, 62,-.05, 65,.04, 68,-.04, 71,.05, 74,-.03, 77,.04, 80,-.05, 83,.03, 86,-.04, 89,.04, 92,-.03, 96,.04, 100,-.04, 104,.03, 108,-.04, 112,.03, 116,-.03, 120,.04, 125,-.03, 130,.03, 135,-.03, 140,.02, 146,-.03, 152,.03, 158,-.02, 164,.03, 170,-.03, 177,.02, 184,-.02, 191,.03, 198,-.02, 206,.02, 214,-.03, 222,.02, 230,-.02, 239,.02, 248,-.02, 257,.03, 266,-.02, 275,.02, 285,-.02, 295,.02, 305,-.02, 316,.02, 327,-.02, 338,.02, 348,-.01, 356,0];
const homN_b = [-50,0, -27,.13, -8,.18, -1,.14, 5,-.09, 11,-.53, 15.5,-.75, 18.5,-.91, 21.5,-.99, 23.5,-.64, 26.5,.02, 28.5,.34, 31.5,.54, 33.5,.34, 36.5,.13, 40.5,.18, 44,-.31, 46,-.64, 50.5,-.61, 53.5,-.2, 56,.5, 58,1.5, 60,1.2, 63,.7, 66,.35, 69,.12, 71,.02, 74,-.1, 77,-.15, 80,-.1, 83,-.2, 86,-.1, 90,-.15, 95,-.05, 100,-.1, 105,-.02, 110,-.06, 116,.01, 122,-.04, 128,.02, 134,-.03, 140,.02, 147,-.04, 154,.01, 161,-.03, 168,.02, 175,-.03, 183,.02, 191,-.02, 199,.03, 207,-.02, 215,.02, 224,-.03, 233,.02, 242,-.02, 251,.02, 260,-.03, 270,.01, 280,-.02, 290,.02, 300,-.02, 312,.01, 324,-.02, 336,.02, 348,-.01, 360,.01, 372,-.02, 386,.01, 400,0];
const homN_r = [-50,0, 0,-.01, 16,-.04, 18,.06, 20.5,.02, 22.5,-.04, 25,.05, 27,.07, 29,0, 31,.08, 33.5,.1, 35.5,-.04, 39,.07, 41.5,-.07, 43.5,.02, 46.5,.11, 48,-.04, 51,.1, 54,-.04, 56.5,.05, 59,-.07, 62,.07, 65,-.05, 68,.08, 71,-.06, 74,.04, 77,-.05, 80,.06, 83,-.03, 86,.05, 89,-.05, 92,.03, 95,-.04, 99,.05, 103,-.03, 107,.04, 111,-.04, 115,.02, 119,-.04, 123,.04, 127,-.02, 131,.03, 135,-.04, 139,.03, 143,-.02, 147,.04, 151,-.03, 156,.02, 161,-.04, 166,.03, 171,-.02, 176,.03, 182,-.03, 188,.02, 194,-.03, 200,.03, 207,-.02, 214,.02, 221,-.03, 228,.02, 235,-.02, 243,.03, 251,-.02, 259,.02, 267,-.03, 275,.02, 283,-.02, 291,.03, 299,-.02, 308,.02, 317,-.02, 326,.02, 335,-.02, 345,.01, 356,0];
const homE_b = [-50,-.01, -27,.03, -8,.09, 0,.08, 12.5,.16, 15.5,.22, 18.5,.58, 21.5,.92, 23.5,.58, 25.5,.42, 28.5,.47, 31.5,.14, 33.5,-.3, 36,-.24, 38,-.51, 40.5,-.95, 43.5,-.81, 45.5,-.9, 47.5,-.51, 50,-.08, 53,.03, 55,.11, 58,-.3, 61,-.4, 65.5,-.13, 68,.19, 71,-.3, 74,.09, 78,.2, 81.5,.28, 84.5,.17, 89,.28, 92,.2, 97.5,.2, 102,.11, 105,.19, 111,.09, 115,0, 120,.03, 125,-.05, 130,.05, 136,-.03, 142,.04, 148,-.06, 154,.03, 160,-.05, 166,.04, 172,-.04, 178,.03, 184,-.05, 190,.03, 196,-.03, 202,.06, 208,-.04, 214,.03, 220,-.02, 226,.03, 232,-.04, 238,.03, 244,-.03, 250,.04, 256,-.03, 262,.02, 268,-.05, 274,.03, 280,-.03, 286,.02, 290,-.05, 296,.08, 301,-.04, 307,.03, 313,-.03, 320,.02, 326,-.03, 332,.02, 340,-.02, 348,.03, 356,-.02, 364,.03, 372,-.03, 380,.03, 388,-.02, 395,.03, 400,0];
const homE_r = [-50,0, -6,-.02, 0,-.07, 9.5,-.16, 17,-.23, 19,.15, 20.5,.44, 22,.15, 23.5,0, 25,.36, 26.5,.42, 29,.44, 31.5,.47, 33.5,.36, 35,.03, 36,-.3, 37.5,-.43, 39,-.2, 40.5,0, 42,-.13, 43.5,-.3, 45,-.18, 46.5,.09, 48,-.18, 49.5,-.3, 51.5,.03, 53,.09, 55,-.1, 57,-.18, 59.5,.03, 61.5,.09, 64,-.13, 66.5,.2, 69.5,-.13, 72,.14, 75,-.05, 78,.08, 81,-.06, 84,.09, 87,-.04, 90,.06, 93,-.07, 96,.03, 99,-.05, 102,.07, 105,-.03, 108,.05, 111,-.06, 114,.03, 117,-.05, 120,.04, 124,-.06, 128,.03, 132,-.04, 136,.05, 140,-.03, 144,.04, 147,-.02, 150,.25, 152.5,-.22, 155,.2, 158,-.1, 161,.15, 164,-.05, 168,.05, 172,-.06, 176,.05, 180,-.04, 185,.05, 190,-.04, 195,.04, 200,-.03, 206,.03, 212,-.02, 218,.03, 222,.1, 225,-.05, 228,.09, 232,-.08, 236,.06, 240,-.05, 245,.04, 250,-.05, 255,.05, 260,-.04, 265,.04, 270,-.03, 276,.04, 282,-.03, 288,.05, 292,-.1, 295,.08, 299,-.05, 303,.08, 307,-.06, 311,.09, 315,-.04, 320,.04, 326,-.03, 332,.03, 338,-.03, 344,.03, 350,-.02, 356,0];

const blueSeries = [au22Z_b, au22N_b, au22E_b, aussZ_b, aussN_b, aussE_b, auwsZ_b, auwsN_b, auwsE_b,
  aujaZ_b, aujaN_b, aujaE_b, ausbZ_b, ausbN_b, ausbE_b, o20kZ_b, o20kN_b, o20kE_b,
  redZ_b, redN_b, redE_b, homZ_b, homN_b, homE_b];
const redSeries = [au22Z_r, au22N_r, au22E_r, aussZ_r, aussN_r, aussE_r, auwsZ_r, auwsN_r, auwsE_r,
  aujaZ_r, aujaN_r, aujaE_r, ausbZ_r, ausbN_r, ausbE_r, o20kZ_r, o20kN_r, o20kE_r,
  redZ_r, redN_r, redE_r, homZ_r, homN_r, homE_r];

const width = 1322, height = 1591;
const plot = { left: 274.7, right: 1297, top: 8, bottom: 1533 };

const svg = d3.select("#chart").append("svg")
  .attr("width", width)
  .attr("height", height);

const x = d3.scaleLinear().domain([-50, 400]).range([plot.left, plot.right]);
const y = d3.scaleLinear().domain([0, labels.length + 1]).range([plot.top, plot.bottom]);

const toPairs = arr => d3.range(0, arr.length, 2).map(i => [arr[i], arr[i + 1]]);

const traces = svg.append("g");
labels.forEach((lab, i) => {
  const k = i + 1;
  const line = d3.line()
    .x(d => x(d[0]))
    .y(d => y(k - d[1]))
    .curve(d3.curveCatmullRom.alpha(0.5));

  traces.append("path")
    .attr("d", line(toPairs(blueSeries[i])))
    .attr("fill", "none")
    .attr("stroke", "#0000ff")
    .attr("stroke-width", 1.3)
    .attr("stroke-linejoin", "round");

  traces.append("path")
    .attr("d", line(toPairs(redSeries[i])))
    .attr("fill", "none")
    .attr("stroke", "#ff0000")
    .attr("stroke-width", 1.3)
    .attr("stroke-linejoin", "round");
});

// station names, right-aligned against the left axis
svg.append("g").selectAll("text")
  .data(labels)
  .join("text")
    .attr("transform", (d, i) => `translate(267,${y(i + 1) + 6.5}) scale(1.115,1)`)
    .attr("text-anchor", "end")
    .style("font-size", "18px")
    .style("fill", "#000")
    .text(d => d);

// origin time marker
svg.append("line")
  .attr("x1", x(originTime)).attr("x2", x(originTime))
  .attr("y1", plot.top).attr("y2", plot.bottom)
  .attr("stroke", "#ff0000")
  .attr("stroke-width", 4.5);

// left axis line
svg.append("line")
  .attr("x1", plot.left).attr("x2", plot.left)
  .attr("y1", plot.top).attr("y2", plot.bottom)
  .attr("stroke", "#262626")
  .attr("stroke-width", 1);

// bottom axis
const xAxis = svg.append("g")
  .attr("transform", `translate(0,${plot.bottom})`)
  .call(d3.axisBottom(x)
    .tickValues(timeTicks)
    .tickSizeInner(-15)
    .tickSizeOuter(0)
    .tickPadding(12)
    .tickFormat(d => d < 0 ? "\u2013" + Math.abs(d) : d));
xAxis.select(".domain").attr("stroke", "#262626");
xAxis.selectAll(".tick line").attr("stroke", "#262626");
xAxis.selectAll(".tick text")
  .attr("transform", "scale(1.1,1)")
  .style("font-size", "18px")
  .style("font-family", "'Liberation Sans', Arial, sans-serif")
  .attr("fill", "#000");

svg.append("text")
  .attr("transform", `translate(${x(175)},${1585}) scale(1.1,1)`)
  .attr("text-anchor", "middle")
  .style("font-size", "18px")
  .style("font-weight", "bold")
  .text("Time (s)");
</script>
</body>
</html>
